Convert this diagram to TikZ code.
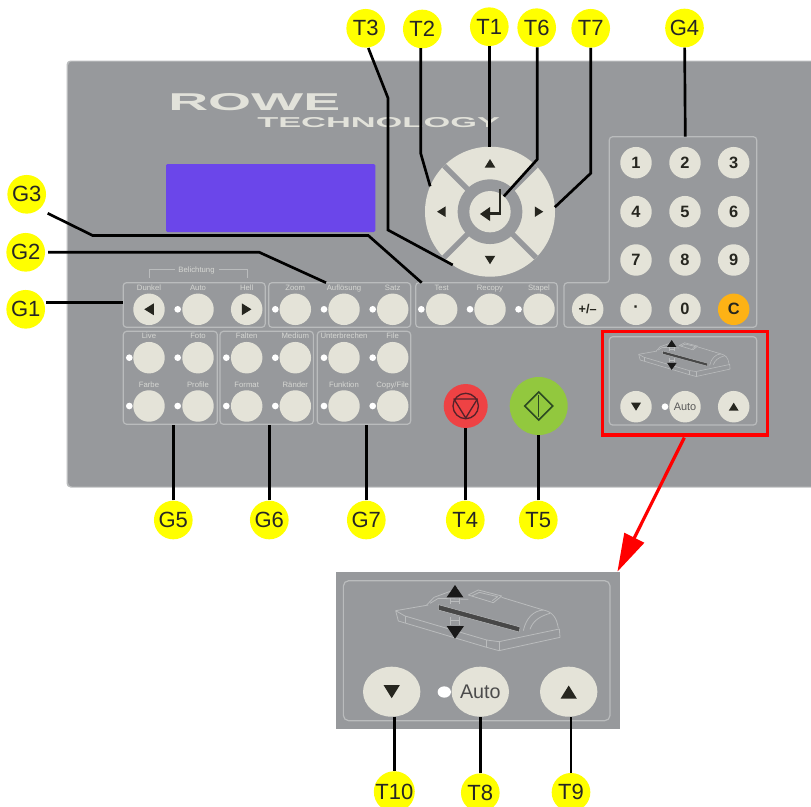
\documentclass[tikz,border=0pt]{standalone}
\usepackage{fontspec}
\usepackage{graphicx}
\setmainfont{Liberation Sans}
\usetikzlibrary{arrows.meta,shapes.geometric}
\definecolor{panelgray}{HTML}{97999C}
\definecolor{boxline}{HTML}{BABCBD}
\definecolor{btncream}{HTML}{E4E3D8}
\definecolor{paneltext}{HTML}{D6D7D3}
\definecolor{keydark}{HTML}{26261F}
\definecolor{lcd}{HTML}{6B46EA}
\definecolor{tagyellow}{HTML}{FFFF00}
\definecolor{keyorange}{HTML}{FDB215}
\definecolor{stopred}{HTML}{EE4244}
\definecolor{stopdark}{HTML}{55222A}
\definecolor{startgreen}{HTML}{92C83E}
\definecolor{startdark}{HTML}{2C4A22}
\definecolor{logocream}{HTML}{E2E2DA}
\tikzset{
  tag/.style={circle,fill=tagyellow,inner sep=0pt,minimum size=29pt,font=\fontsize{16.5pt}{18pt}\selectfont,text=black!85},
  leader/.style={draw=black,line width=2pt},
  groupbox/.style={rectangle,rounded corners=2.5pt,draw=boxline,line width=0.9pt,inner sep=0pt},
  keybtn/.style={circle,fill=btncream,inner sep=0pt,minimum size=23.6pt},
  numkey/.style={keybtn,font=\fontsize{12.3pt}{14pt}\selectfont\bfseries,text=keydark},
  led/.style={circle,fill=white,inner sep=0pt,minimum size=5pt},
  keylabel/.style={inner sep=0pt,font=\fontsize{5.8pt}{6pt}\selectfont,text=paneltext},
  bigkey/.style={ellipse,fill=btncream,inner sep=0pt,minimum width=43pt,minimum height=37.5pt},
}
\newcommand\tipfill[4]{\fill[keydark,shift={(#1,#2)},rotate=#3] (0,-0.5*#4) -- (0.62*#4,0.5*#4) -- (-0.62*#4,0.5*#4) -- cycle;}
\newcommand\scannerart[1]{%
  \begin{scope}[line width=#1,draw=boxline,line join=round]
    \draw (197,152) -- (205,183) -- (470,262) -- (507,272) -- (690,232) -- (688,207) -- (507,245) -- (470,240) -- (225,168) -- (197,152);
    \draw (197,152) -- (295,135);
    \draw (225,168) -- (225,190);
    \draw (470,240) -- (470,262) (507,245) -- (507,272);
    \draw (290,135) -- (312,112) -- (385,85);
    \draw (300,130) -- (325,115) -- (415,118);
    \draw (415,105) -- (445,90) -- (515,108) -- (490,128) -- cycle;
    \draw (425,108) -- (448,97) -- (503,110) -- (487,122);
    \draw (515,112) -- (640,150) .. controls (665,155) and (680,170) .. (685,205);
    \draw (580,212) .. controls (588,175) and (610,152) .. (640,150);
    \draw (600,208) .. controls (608,185) and (625,170) .. (660,160);
    \fill[black!72] (325,134) -- (570,201) -- (568,216) -- (325,150) -- cycle;
    \draw[line width=0.6*#1] (325,134) -- (570,201) -- (568,216) -- (325,150) -- cycle;
    \fill[black!90] (375,75) -- (400,112) -- (350,112) -- cycle;
    \fill[black!90] (375,236) -- (402,198) -- (350,198) -- cycle;
    \draw (362,114) -- (362,132) (388,114) -- (388,132) (362,172) -- (362,196) (388,172) -- (388,196);
    \draw (362,125) -- (388,125) (362,182) -- (388,182);
  \end{scope}}
\begin{document}
\begin{tikzpicture}[x=0.75pt,y=-0.75pt]
\clip (0,0) rectangle (811,807);
\useasboundingbox (0,0) rectangle (811,807);
% main panel
\fill[boxline] (811,60.5) [rounded corners=3pt] -- (66.5,60.5) -- (66.5,487.5) [sharp corners] -- (811,487.5) -- cycle;
\fill[panelgray] (811,61.5) [rounded corners=3pt] -- (68,61.5) -- (68,486.5) [sharp corners] -- (811,486.5) -- cycle;
% logo
\node[inner sep=0pt,anchor=north west,text=logocream] (logoA) at (168,93) {\resizebox{129pt}{12.75pt}{\bfseries ROWE}};
\node[inner sep=0pt,anchor=north west,text=logocream] (logoB) at (257,117) {\resizebox{182pt}{7.5pt}{\bfseries TECHNOLOGY}};
% display
\fill[lcd,rounded corners=1pt] (166,164) rectangle (375.3,232);
% group frames
\node[groupbox,minimum width=106.5pt,minimum height=33.5pt] (boxGa) at (194.15,305) {};
\node[groupbox,minimum width=106.5pt,minimum height=33.5pt] (boxGb) at (339.7,305) {};
\node[groupbox,minimum width=106.2pt,minimum height=33.5pt] (boxGc) at (486.5,305) {};
\node[groupbox,minimum width=70.5pt,minimum height=69.7pt] (boxGe) at (170.3,377.8) {};
\node[groupbox,minimum width=70pt,minimum height=69.7pt] (boxGf) at (266.7,377.8) {};
\node[groupbox,minimum width=70pt,minimum height=69.7pt] (boxGg) at (364,377.8) {};
\draw[boxline,line width=0.9pt,rounded corners=2.5pt] (609.3,282.7) -- (609.3,136.7) -- (756.7,136.7) -- (756.7,327.3) -- (564,327.3) -- (564,282.7) -- cycle;
\coordinate (padtop) at (685.3,136.7);
% Belichtung bracket
\draw[boxline,line width=0.7pt] (149,278.3) -- (149,269.3) -- (175,269.3);
\draw[boxline,line width=0.7pt] (219.3,269.3) -- (247,269.3) -- (247,278.3);
\node[keylabel] (lbBel) at (196.5,270) {Belichtung};
% row buttons with LEDs and captions
\foreach \nm/\x/\y/\t in {a/149/309.3/Dunkel,b/198/309.3/Auto,c/246.7/309.3/Hell,d/295.3/309.3/Zoom,e/344/309.3/Aufl\"osung,f/392.7/309.3/Satz,g/441.7/309.3/Test,h/490/309.3/Recopy,i/539/309.3/Stapel,j/149/357.7/Live,k/198/357.7/Foto,l/246.7/357.7/Falten,m/295.3/357.7/Medium,n/344/357.7/Unterbrechen,o/392.7/357.7/File,p/149/406/Farbe,q/198/406/Profile,r/246.7/406/Format,s/295.3/406/R\"ander,t/344/406/Funktion,u/392.7/406/{Copy/File}}{
  \node[keybtn] (btn\nm) at (\x,\y) {};
  \node[keylabel,anchor=base] (cap\nm) at (\x,{\y-18.8}) {\t};
}
\foreach \nm/\x/\y in {b/177.7/309.3,d/275.3/309.3,e/324/309.3,f/372.7/309.3,g/421.3/309.3,h/470/309.3,i/518.5/309.3,j/129.3/357.7,k/177.7/357.7,l/226.3/357.7,m/275.3/357.7,n/324/357.7,o/372.7/357.7,p/129.3/406,q/177.7/406,r/226.3/406,s/275.3/406,t/324/406,u/372.7/406,auto/665/406.7}{
  \node[led] (led\nm) at (\x,\y) {};
}
\tipfill{149}{309.3}{90}{9.5}
\tipfill{246.7}{309.3}{-90}{9.5}
% wheel
\node[circle,fill=btncream,inner sep=0pt,outer sep=0pt,minimum size=97.5pt] (wheel) at (490,211.7) {};
\draw[panelgray,line width=4pt] (wheel.45) -- (wheel.225) (wheel.135) -- (wheel.315);
\node[circle,fill=panelgray,inner sep=0pt,minimum size=48.5pt] (wheelring) at (490,211.7) {};
\node[circle,fill=btncream,inner sep=0pt,outer sep=0pt,minimum size=31pt] (enter) at (490,211.7) {};
\tipfill{490}{163.3}{0}{8.5}
\tipfill{441.3}{211.7}{90}{8.5}
\tipfill{539}{211.7}{-90}{8.5}
\tipfill{490}{260}{180}{8.5}
\draw[keydark,line width=2pt] (500,189.3) -- (500,213.5) -- (488,213.5);
\fill[keydark] (480,214) -- (490,207) -- (490,221) -- cycle;
% number keys
\foreach \nm/\x/\y/\t in {one/636/162.7/1,two/685/162.7/2,three/733.7/162.7/3,four/636/211.7/4,five/685/211.7/5,six/733.7/211.7/6,seven/636/260/7,eight/685/260/8,nine/733.7/260/9,dot/636/309.3/\textperiodcentered,zero/685/309.3/0}{
  \node[numkey] (key\nm) at (\x,\y) {\t};
}
\node[numkey,fill=keyorange] (keyC) at (733.7,309.3) {C};
\node[numkey,font=\fontsize{9.5pt}{11pt}\selectfont\bfseries] (keyPM) at (587.7,309.3) {+/--};
% scanner key panel
\node[groupbox,minimum width=110.5pt,minimum height=66.2pt] (boxScan) at (683,380.9) {};
\begin{scope}[shift={(602.2,326.1)},scale=0.1853]
  \scannerart{0.45pt}
\end{scope}
\node[keybtn] (scanDown) at (636,406.7) {};
\node[keybtn,font=\fontsize{8.2pt}{9pt}\selectfont,text=black!65] (scanAuto) at (685,406.7) {Auto};
\node[keybtn] (scanUp) at (733.7,406.7) {};
\tipfill{636}{406.7}{180}{8}
\tipfill{733.7}{406.7}{0}{8}
\node[rectangle,draw=red,line width=2.4pt,inner sep=0pt,minimum width=123.75pt,minimum height=77.6pt] (redbox) at (684.8,383.3) {};
% stop and start
\node[circle,fill=stopred,inner sep=0pt,minimum size=33pt] (stopkey) at (465.7,406) {};
\draw[stopdark,line width=1pt] (465.7,406) circle[radius=12.7];
\draw[stopdark,line width=1pt,line join=round] (454,399) -- (477.4,399) -- (465.7,418) -- cycle;
\node[circle,fill=startgreen,inner sep=0pt,minimum size=43.5pt] (startkey) at (538.7,406) {};
\draw[startdark,line width=1.2pt] (538.7,392) -- (552.7,406) -- (538.7,420) -- (524.7,406) -- cycle;
\draw[startdark,line width=1pt] (538.7,395) -- (538.7,417);
% inset
\node[rectangle,fill=panelgray,inner sep=0pt,minimum width=213pt,minimum height=117.5pt] (inset) at (478,650.6) {};
\node[groupbox,minimum width=200pt,minimum height=105pt,rounded corners=4pt] (insetbox) at (476.7,650.7) {};
\begin{scope}[shift={(330,560)},scale=0.33333]
  \scannerart{0.6pt}
\end{scope}
\node[bigkey] (bigDown) at (391.7,691.7) {};
\node[bigkey,font=\fontsize{14.8pt}{16pt}\selectfont,text=black!70] (bigAuto) at (480.3,691.7) {Auto};
\node[bigkey] (bigUp) at (568.7,691.7) {};
\node[ellipse,fill=white,inner sep=0pt,minimum width=10pt,minimum height=8.5pt] (bigLed) at (444.3,692) {};
\tipfill{391.7}{691.7}{180}{13}
\tipfill{568.7}{692}{0}{13}
% yellow tags
\foreach \nm/\x/\y in {T3/365.7/28.3,T2/422.3/29,T1/489.3/26.7,T6/536.7/27.7,T7/590.7/28.3,G4/684.5/28,G3/26.7/194.3,G2/25.7/252.3,G1/25.7/309.3,G5/173.3/520,G6/269.3/520,G7/366.3/520,T4/465.3/520,T5/538.3/520,T10/394.3/791.7,T8/480.3/792.7,T9/571/792.3}{
  \node[tag] (\nm) at (\x,\y) {\nm};
}
% leaders
\coordinate (bendTiiiA) at (388,98);
\coordinate (bendTiiiB) at (388,230);
\coordinate (bendTii) at (420.7,153.3);
\coordinate (bendTvi) at (537.3,159.3);
\coordinate (bendTvii) at (590.7,173.3);
\coordinate (bendGiii) at (92.7,235.5);
\coordinate (bendGiiiB) at (368.3,235.5);
\coordinate (bendGii) at (259.3,252.3);
\coordinate (endGiii) at (421.7,282.7);
\coordinate (endGii) at (326,282.7);
\coordinate (startGi) at (46,302.3);
\coordinate (startGii) at (48,252.3);
\coordinate (startGiii) at (47.7,213.3);
\coordinate (startTiii) at (368.3,48);
\coordinate (startTii) at (420.7,48);
\draw[leader] (startTiii) -- (bendTiiiA) -- (bendTiiiB) -- (wheel.235.5);
\draw[leader] (startTii) -- (bendTii) -- (wheel.157);
\draw[leader] (T1) -- (wheel.north -| T1);
\draw[leader] (T6.south -| bendTvi) -- (bendTvi) -- (enter);
\draw[leader] (T7) -- (bendTvii) -- (wheel.4.4);
\draw[leader] (G4) -- (padtop);
\draw[leader] (startGiii) -- (bendGiii) -- (bendGiiiB) -- (endGiii);
\draw[leader] (startGii) -- (bendGii) -- (endGii);
\draw[leader] (startGi) -- (boxGa.west |- startGi);
\draw[leader] (G5) -- (boxGe.south -| G5);
\draw[leader] (G6) -- (boxGf.south -| G6);
\draw[leader] (G7) -- (boxGg.south -| G7);
\draw[leader] (T4) -- (stopkey.south -| T4);
\draw[leader] (T5) -- (startkey.south -| T5);
\draw[leader] (T10) -- (bigDown.south -| T10);
\draw[leader] (T8) -- (bigAuto.south -| T8);
\draw[leader] (T9) -- (bigUp.south -| T9);
% red arrow
\coordinate (arrowend) at (617.4,571.7);
\draw[red,line width=2.4pt,-{Triangle[length=28.5pt,width=16.2pt]}] (redbox.south) ++(-0.5,1) -- (arrowend);
\end{tikzpicture}
\end{document}
